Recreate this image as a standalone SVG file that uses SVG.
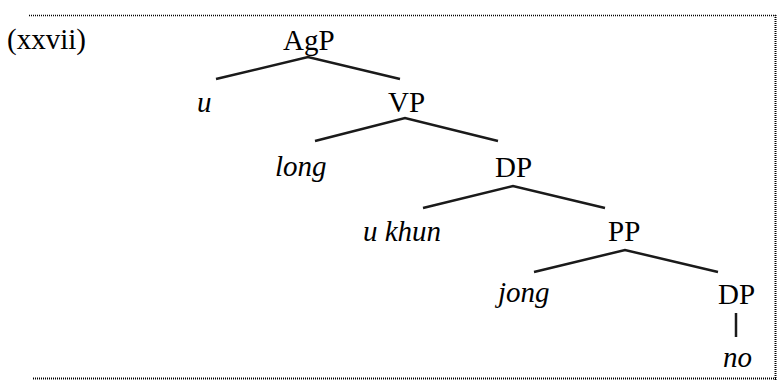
<svg xmlns="http://www.w3.org/2000/svg" width="781" height="382" viewBox="0 0 781 382">
  <style>
    text { font-family: "Liberation Serif", "Times New Roman", serif; font-size: 29px; fill: #000; }
    .it { font-style: italic; }
    .edge { stroke: #1a1a1a; stroke-width: 2.5; fill: none; stroke-linecap: butt; }
    .frame { stroke: #000; fill: none; stroke-dasharray: 1 1; }
  </style>
  <rect width="781" height="382" fill="#fff"/>

  <!-- dotted frame -->
  <g id="frame">
    <line class="frame" x1="29" y1="15.5" x2="776" y2="15.5" stroke-width="1.4"/>
    <line class="frame" x1="775.5" y1="15" x2="775.5" y2="380" stroke-width="2"/>
    <line class="frame" x1="33" y1="378.5" x2="777" y2="378.5" stroke-width="2"/>
  </g>

  <text id="label" x="7" y="49">(xxvii)</text>

  <!-- branches -->
  <g id="connectors">
    <polyline class="edge" points="216,79 308,57 400,79"/>
    <polyline class="edge" points="315,141 405,118 498,141"/>
    <polyline class="edge" points="423,208 513,186 605,208"/>
    <polyline class="edge" points="534,272 625,250 718,272"/>
    <line class="edge" x1="736" y1="313" x2="736" y2="337"/>
  </g>

  <g id="AgP"><text x="283" y="50">AgP</text></g>
  <g id="u"><text class="it" x="197" y="112">u</text></g>
  <g id="VP"><text x="388" y="112">VP</text></g>
  <g id="long"><text class="it" x="275" y="176">long</text></g>
  <g id="DP1"><text x="495" y="177">DP</text></g>
  <g id="ukhun"><text class="it" x="363" y="241">u khun</text></g>
  <g id="PP"><text x="608" y="241">PP</text></g>
  <g id="jong"><text class="it" x="498" y="302">jong</text></g>
  <g id="DP2"><text x="718" y="304">DP</text></g>
  <g id="no"><text class="it" x="723" y="367">no</text></g>
</svg>
